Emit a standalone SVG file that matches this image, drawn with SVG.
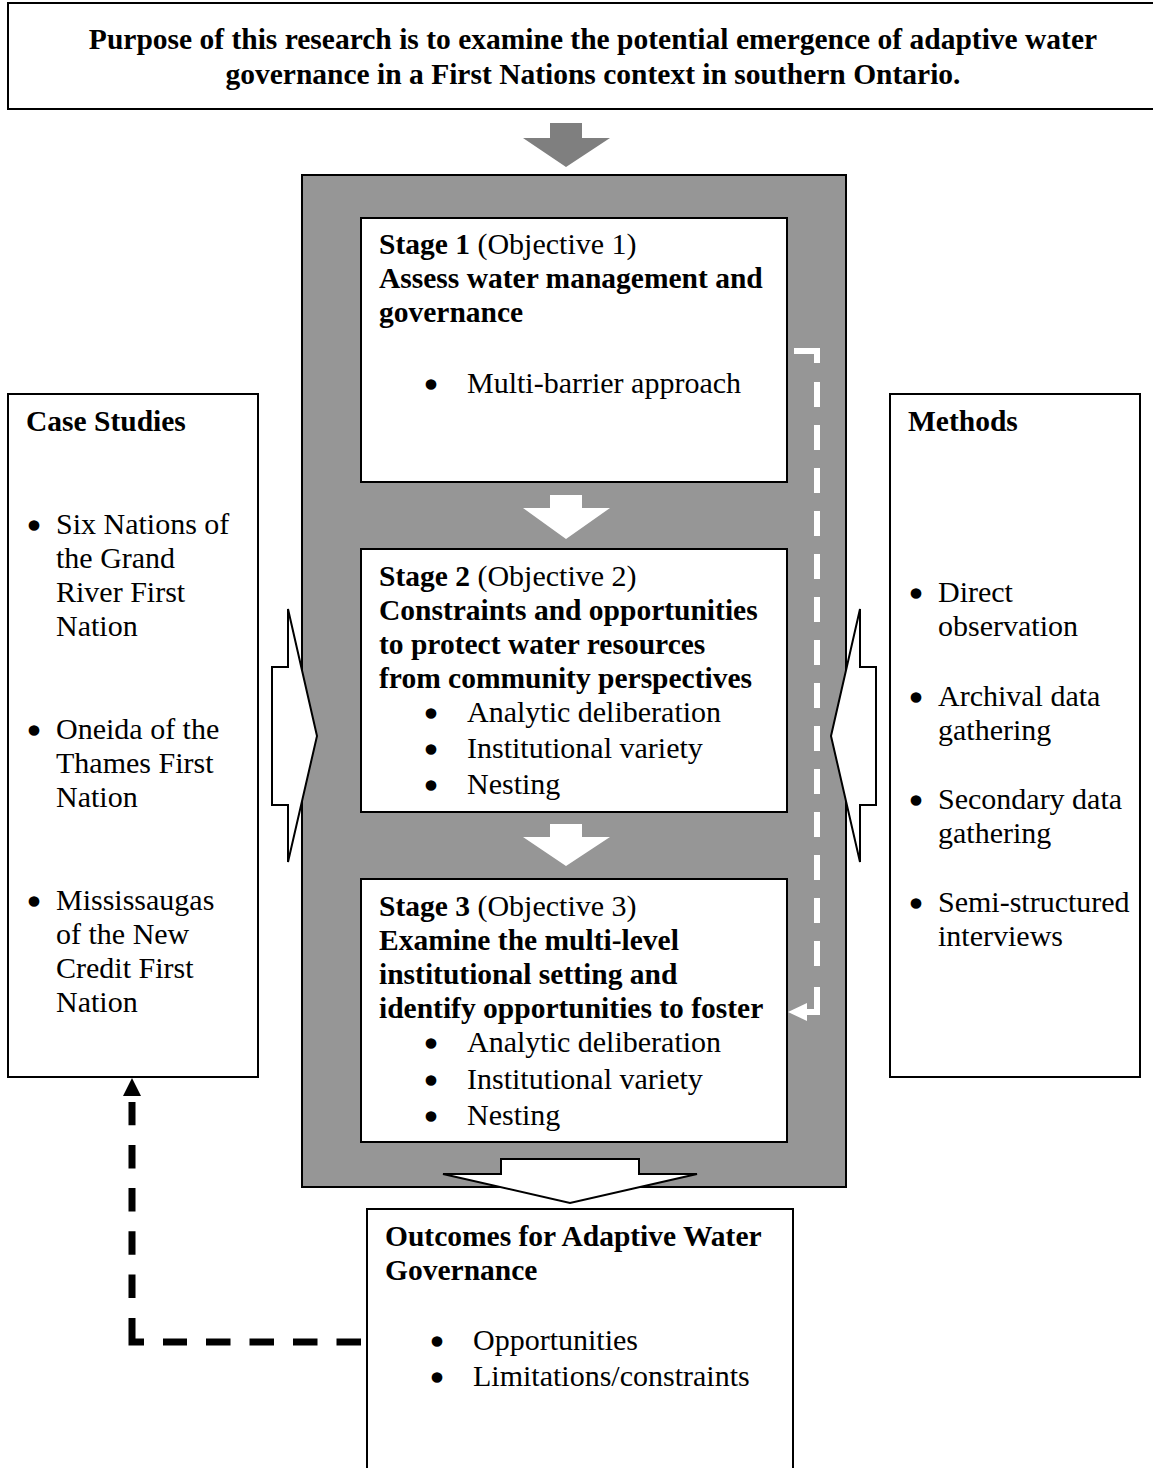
<svg xmlns="http://www.w3.org/2000/svg" width="1153" height="1468" viewBox="0 0 1153 1468">
<style>
text{font-family:"Liberation Serif","Times New Roman",serif;font-size:30px;fill:#000}
.b{font-weight:bold;font-size:29.5px}
.box{fill:#fff;stroke:#000;stroke-width:2}
.bul{text-anchor:middle;stroke:#000;stroke-width:3.5;stroke-linejoin:round}
.warr{fill:#fff;stroke:none}
.oarr{fill:#fff;stroke:#000;stroke-width:2;stroke-linejoin:miter}
</style>
<rect width="1153" height="1468" fill="#fff"/>
<g id="purpose">
<rect class="box" x="8" y="3" width="1150" height="106"/>
<text class="b" x="593" y="49" text-anchor="middle">Purpose of this research is to examine the potential emergence of adaptive water</text>
<text class="b" x="593" y="84" text-anchor="middle">governance in a First Nations context in southern Ontario.</text>
</g>
<g id="top-arrow">
<polygon points="550,123 582,123 582,138 610,138 566,167 523,138 550,138" fill="#7f7f7f"/>
</g>
<g id="stages-frame">
<rect x="302" y="175" width="544" height="1012" fill="#969696" stroke="#000" stroke-width="2"/>
</g>
<g id="stage1">
<rect class="box" x="361" y="218" width="426" height="264"/>
<text x="379" y="254"><tspan class="b">Stage 1</tspan> (Objective 1)</text>
<text class="b" x="379" y="288">Assess water management and</text>
<text class="b" x="379" y="322">governance</text>
<text class="bul" x="431" y="395">•</text>
<text x="467" y="393">Multi-barrier approach</text>
</g>
<g id="stage2">
<rect class="box" x="361" y="549" width="426" height="263"/>
<text x="379" y="586"><tspan class="b">Stage 2</tspan> (Objective 2)</text>
<text class="b" x="379" y="620">Constraints and opportunities</text>
<text class="b" x="379" y="654">to protect water resources</text>
<text class="b" x="379" y="688">from community perspectives</text>
<text class="bul" x="431" y="724">•</text>
<text x="467" y="722">Analytic deliberation</text>
<text class="bul" x="431" y="760">•</text>
<text x="467" y="758">Institutional variety</text>
<text class="bul" x="431" y="796">•</text>
<text x="467" y="794">Nesting</text>
</g>
<g id="stage3">
<rect class="box" x="361" y="879" width="426" height="263"/>
<text x="379" y="916"><tspan class="b">Stage 3</tspan> (Objective 3)</text>
<text class="b" x="379" y="950">Examine the multi-level</text>
<text class="b" x="379" y="984">institutional setting and</text>
<text class="b" x="379" y="1018">identify opportunities to foster</text>
<text class="bul" x="431" y="1054">•</text>
<text x="467" y="1052">Analytic deliberation</text>
<text class="bul" x="431" y="1091">•</text>
<text x="467" y="1089">Institutional variety</text>
<text class="bul" x="431" y="1127">•</text>
<text x="467" y="1125">Nesting</text>
</g>
<g id="case-studies">
<rect class="box" x="8" y="394" width="250" height="683"/>
<text class="b" x="26" y="431">Case Studies</text>
<text class="bul" x="34" y="536">•</text>
<text x="56" y="534">Six Nations of</text>
<text x="56" y="568">the Grand</text>
<text x="56" y="602">River First</text>
<text x="56" y="636">Nation</text>
<text class="bul" x="34" y="741">•</text>
<text x="56" y="739">Oneida of the</text>
<text x="56" y="773">Thames First</text>
<text x="56" y="807">Nation</text>
<text class="bul" x="34" y="912">•</text>
<text x="56" y="910">Mississaugas</text>
<text x="56" y="944">of the New</text>
<text x="56" y="978">Credit First</text>
<text x="56" y="1012">Nation</text>
</g>
<g id="methods">
<rect class="box" x="890" y="394" width="250" height="683"/>
<text class="b" x="908" y="431">Methods</text>
<text class="bul" x="916" y="604">•</text>
<text x="938" y="602">Direct</text>
<text x="938" y="636">observation</text>
<text class="bul" x="916" y="708">•</text>
<text x="938" y="706">Archival data</text>
<text x="938" y="740">gathering</text>
<text class="bul" x="916" y="811">•</text>
<text x="938" y="809">Secondary data</text>
<text x="938" y="843">gathering</text>
<text class="bul" x="916" y="914">•</text>
<text x="938" y="912">Semi-structured</text>
<text x="938" y="946">interviews</text>
</g>
<g id="outcomes">
<rect class="box" x="367" y="1209" width="426" height="270"/>
<text class="b" x="385" y="1246">Outcomes for Adaptive Water</text>
<text class="b" x="385" y="1280">Governance</text>
<text class="bul" x="437" y="1352">•</text>
<text x="473" y="1350">Opportunities</text>
<text class="bul" x="437" y="1388">•</text>
<text x="473" y="1386">Limitations/constraints</text>
</g>
<g id="connectors">
<polygon class="warr" points="550,495 582,495 582,508 610,508 566,539 523,508 550,508"/>
<polygon class="warr" points="550,824 582,824 582,837 610,837 566,866 523,837 550,837"/>
<polygon class="oarr" points="272,667 288,667 288,609 317,736 288,862 288,805 272,805"/>
<polygon class="oarr" points="876,667 860,667 860,609 831,736 860,862 860,805 876,805"/>
<polygon class="oarr" points="501,1159 639,1159 639,1174 697,1174 570,1203 443,1174 501,1174"/>
<g fill="none" stroke="#fff" stroke-width="6" stroke-linecap="butt">
<path d="M794,351 H817 V363"/>
<path d="M817,382 V966" stroke-dasharray="25 18"/>
<path d="M817,987 V1012 H806"/>
</g>
<polygon points="788,1012 807,1003 807,1021" fill="#fff"/>
<g fill="none" stroke="#000" stroke-width="7" stroke-linecap="butt">
<path d="M361,1342 H163" stroke-dasharray="24.5 19"/>
<path d="M144,1342 H132 V1318"/>
<path d="M132,1298 V1102" stroke-dasharray="23.5 19.7"/>
</g>
<polygon points="132,1078 123,1096 141,1096" fill="#000"/>
</g>
</svg>
